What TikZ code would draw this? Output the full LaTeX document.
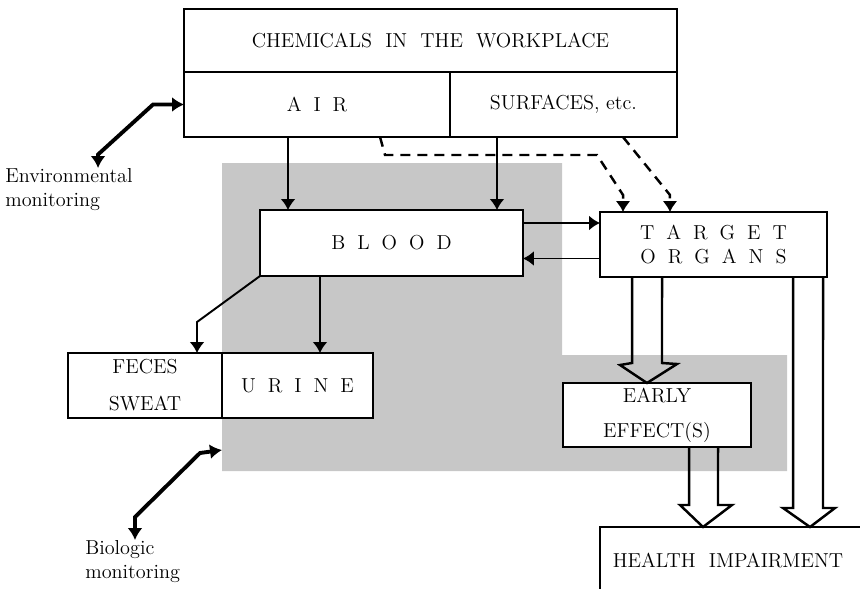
\documentclass[tikz,border=0pt]{standalone}
\usepackage{tikz}
\usetikzlibrary{arrows.meta,positioning,calc}
\newcommand{\lgap}{\hspace{0.24cm}}
\tikzset{box/.style={draw=black, fill=white, line width=1.1pt, inner sep=0, outer sep=0, align=center},
  arr/.style={line width=1.1pt, -{Latex[length=0.22cm,width=0.3cm]}},
  dsh/.style={arr, line width=1.4pt, dash pattern=on 0.2cm off 0.14cm},
  mon/.style={line width=2.2pt, {Latex[length=0.24cm,width=0.3cm]}-{Latex[length=0.24cm,width=0.3cm]}},
  hollow/.style={line width=1.4pt, line join=miter},
  stipple/.style={fill=black!22},
  lbl/.style={inner sep=0, align=left, anchor=north west}}

\begin{document}
\begin{tikzpicture}[x=0.02cm, y=-0.02cm, font=\fontsize{11.5}{14}\selectfont]
    \useasboundingbox (0,0) rectangle (860,589);
    \clip (0,0) rectangle (860,589);
    % stippled area behind the body
    \fill[stipple] (222,163) -- (562,163) -- (562,355) -- (787,355) -- (787,471) -- (222,471) -- cycle;
    \coordinate (stip) at (222,450);

    \node[box, minimum width=9.86cm, minimum height=1.26cm] (chem) at (430.5,40.5) {CHEMICALS\ \ IN\ \ THE\ \ WORKPLACE};
    \node[box, minimum width=5.32cm, minimum height=1.3cm, anchor=north west] (air) at (chem.south west) {A\lgap I\lgap R};
    \node[box, minimum width=4.54cm, minimum height=1.3cm, anchor=north west] (surf) at (air.north east) {SURFACES, etc.};

    \node[box, minimum width=5.26cm, minimum height=1.32cm] (blood) at (391.5,243) {B\lgap L\lgap O\lgap O\lgap D};
    \node[box, minimum width=4.54cm, minimum height=1.3cm] (target) at (713.5,244.5) {T\lgap A\lgap R\lgap G\lgap E\lgap T\\O\lgap R\lgap G\lgap A\lgap N\lgap S};

    \node[box, minimum width=3.08cm, minimum height=1.3cm] (feces) at (145,385.5) {FECES\\[7pt]SWEAT};
    \node[box, minimum width=3.02cm, minimum height=1.3cm, anchor=north west] (urine) at (feces.north east) {U\lgap R\lgap I\lgap N\lgap E};
    \node[box, minimum width=3.76cm, minimum height=1.28cm] (early) at (657,415) {EARLY\\[6pt]EFFECT(S)};
    \node[box, minimum width=5.6cm, minimum height=1.32cm, anchor=north west] (health) at (600,527) {HEALTH\ \ IMPAIRMENT\hspace{0.48cm}};

    \node[lbl] (envlbl) at (5,168) {Environmental\\monitoring};
    \node[lbl] (biolbl) at (85,540) {Biologic\\monitoring};

    % uptake
    \draw[arr] ($(air.south)+(-29,0)$) coordinate (a1) -- (a1 |- blood.north);
    \draw[arr] ($(surf.south)+(-66.5,0)$) coordinate (a2) -- (a2 |- blood.north);
    \draw[dsh] ($(air.south)+(63,0)$) -- ++(5,18) -- ++(212,0) -- ++(26,40) coordinate (d1) -- (d1 |- target.north);
    \draw[dsh] ($(surf.south)+(59.5,0)$) -- ++(47,58) coordinate (d2) -- (d2 |- target.north);

    \draw[arr] ($(blood.east)+(0,-20)$) coordinate (b1) -- (b1 -| target.west);
    \draw[arr] ($(target.west)+(0,14)$) coordinate (t1) -- (t1 -| blood.east);

    % excretion
    \draw[arr] ($(blood.south)+(-71.5,0)$) coordinate (b2) -- (b2 |- urine.north);
    \draw[arr] (blood.south west) -- ++(-63,46) coordinate (b3) -- (b3 |- feces.north);

    % monitoring
    \draw[mon] (air.west) -- ++(-31,0) -- ++(-55,50) coordinate (e1) -- (e1 |- envlbl.north);
    \draw[mon] (stip) -- ++(-22,3) -- ++(-65,64) coordinate (e2) -- (e2 |- biolbl.north);

    % effects
    \draw[hollow] ($(target.south west)+(32,0)$) -- ++(0,86) -- ++(-12,2) -- ($(early.north)+(-10,0)$) -- ++(30,-19) -- ++(-15,-1) -- ($(target.south west)+(62,0)$);
    \draw[hollow] ($(target.south west)+(193,0)$) -- ++(0,231) -- ++(-10,0) -- ($(health.north west)+(210,0)$) -- ++(25,-19) -- ++(-12,0) -- ($(target.south west)+(223,0)$);
    \draw[hollow] ($(early.south west)+(126,0)$) -- ++(0,58) -- ++(-9,0) -- ($(health.north west)+(103,0)$) -- ++(29,-22) -- ++(-14,0) -- ($(early.south west)+(155,0)$);
\end{tikzpicture}
\end{document}
